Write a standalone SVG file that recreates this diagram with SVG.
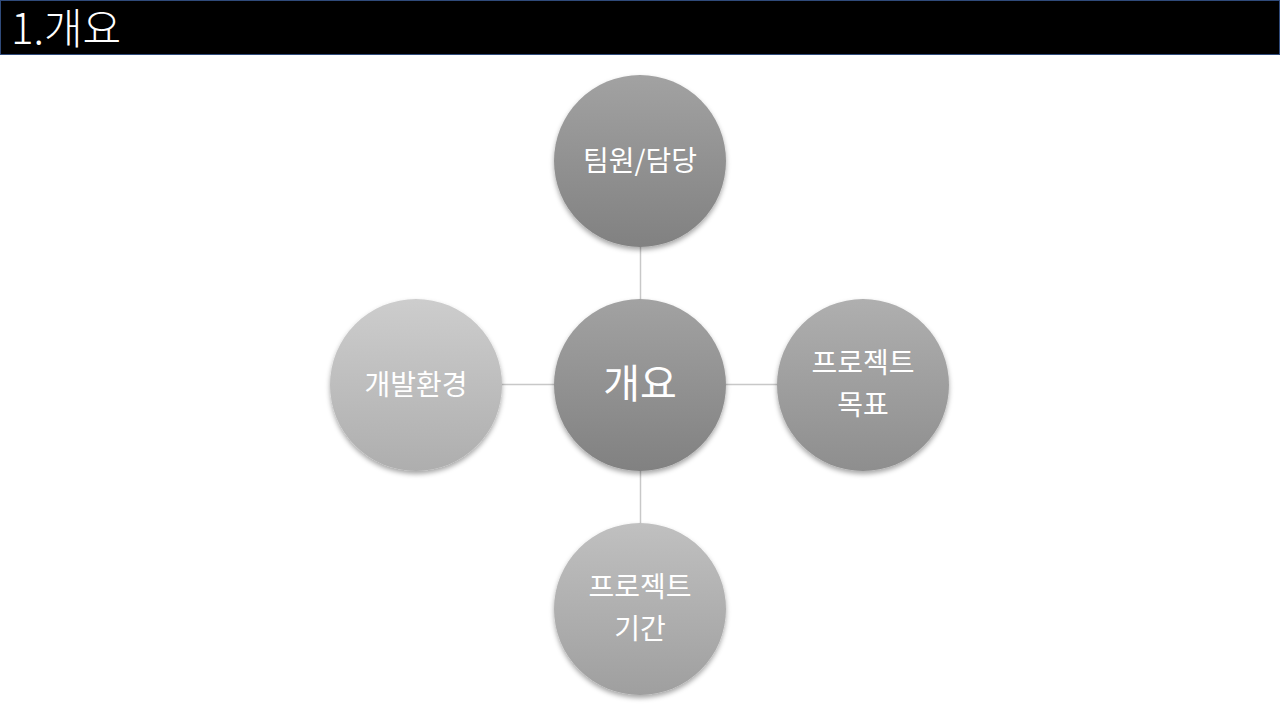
<svg xmlns="http://www.w3.org/2000/svg" width="1280" height="720" viewBox="0 0 1280 720">
<style>
  .lbl { font-family: "Noto Sans CJK KR", "Noto Sans", sans-serif; fill: #ffffff; text-anchor: middle; }
  .sm { font-size: 28px; }
  .conn { stroke: #c8c8c8; stroke-width: 1.5; fill: none; }
</style>
<defs>
  <filter id="sh" x="-20%" y="-20%" width="140%" height="150%">
    <feDropShadow dx="0" dy="3" stdDeviation="2.5" flood-color="#000" flood-opacity="0.35"/>
  </filter>
  <linearGradient id="gDark" x1="0" y1="0" x2="0" y2="1">
    <stop offset="0" stop-color="#a2a2a2"/>
    <stop offset="1" stop-color="#818181"/>
  </linearGradient>
  <linearGradient id="gMid" x1="0" y1="0" x2="0" y2="1">
    <stop offset="0" stop-color="#afafaf"/>
    <stop offset="1" stop-color="#8e8e8e"/>
  </linearGradient>
  <linearGradient id="gLight" x1="0" y1="0" x2="0" y2="1">
    <stop offset="0" stop-color="#cdcdcd"/>
    <stop offset="1" stop-color="#aeaeae"/>
  </linearGradient>
  <linearGradient id="gBot" x1="0" y1="0" x2="0" y2="1">
    <stop offset="0" stop-color="#c0c0c0"/>
    <stop offset="1" stop-color="#9f9f9f"/>
  </linearGradient>
</defs>
<rect width="1280" height="720" fill="#ffffff"/>
<g id="header">
  <rect x="0.5" y="0.5" width="1279" height="54" fill="#000000" stroke="#2f4a7a" stroke-width="1"/>
  <text x="11" y="44" font-family="'Noto Sans CJK KR', 'Noto Sans', sans-serif" font-size="42" font-weight="300" fill="#ffffff">1.개요</text>
</g>
<g id="connectors">
  <line class="conn" x1="640.5" y1="247" x2="640.5" y2="299"/>
  <line class="conn" x1="640.5" y1="471" x2="640.5" y2="523"/>
  <line class="conn" x1="502" y1="384.5" x2="554" y2="384.5"/>
  <line class="conn" x1="726" y1="384.5" x2="778" y2="384.5"/>
</g>
<g id="node-team">
  <circle cx="640" cy="161" r="86" fill="url(#gDark)" filter="url(#sh)"/>
  <text class="lbl sm" x="640" y="171">팀원/담당</text>
</g>
<g id="node-env">
  <circle cx="416" cy="385" r="86" fill="url(#gLight)" filter="url(#sh)"/>
  <text class="lbl sm" x="416" y="395">개발환경</text>
</g>
<g id="node-center">
  <circle cx="640" cy="385" r="86" fill="url(#gDark)" filter="url(#sh)"/>
  <text class="lbl" font-size="40" x="640" y="398">개요</text>
</g>
<g id="node-goal">
  <circle cx="863" cy="385" r="86" fill="url(#gMid)" filter="url(#sh)"/>
  <text class="lbl sm" x="863" y="373">프로젝트</text>
  <text class="lbl sm" x="863" y="415">목표</text>
</g>
<g id="node-period">
  <circle cx="640" cy="609" r="86" fill="url(#gBot)" filter="url(#sh)"/>
  <text class="lbl sm" x="640" y="597">프로젝트</text>
  <text class="lbl sm" x="640" y="639">기간</text>
</g>
</svg>
